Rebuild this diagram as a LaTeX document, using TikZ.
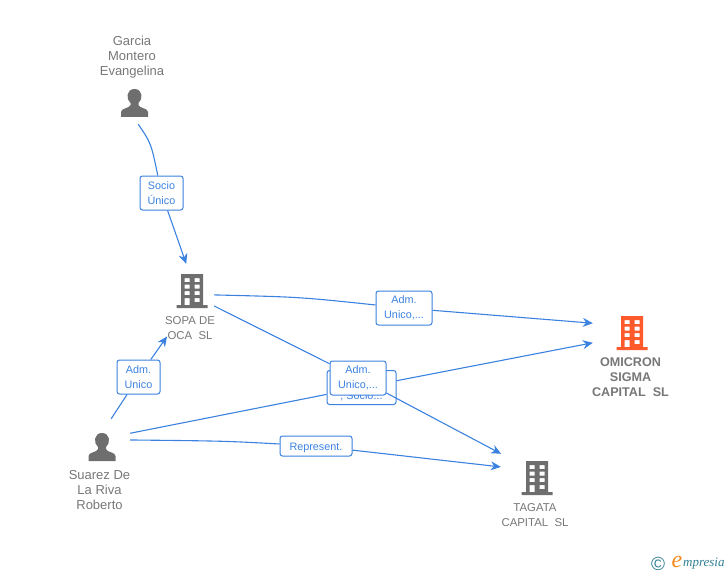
\documentclass[tikz,border=0pt]{standalone}
\usepackage{fontspec}
\setmainfont{Liberation Sans}
\newfontfamily\logofont{Liberation Serif}
\usetikzlibrary{arrows.meta}
\definecolor{linkblue}{HTML}{3B82E0}
\definecolor{icongray}{HTML}{6E6E6E}
\definecolor{namegray}{HTML}{777777}
\definecolor{mainorange}{HTML}{FF5A2C}
\definecolor{logoteal}{HTML}{2F7F93}
\definecolor{logoorange}{HTML}{F58A1F}
\tikzset{
  link/.style={linkblue,line width=1.1pt},
  arrowlink/.style={link,-{Stealth[length=10pt,width=9pt]}},
  linkbox/.style={draw=linkblue,fill=white,text=linkblue,rounded corners=2.5pt,line width=1pt,align=center,inner sep=0pt,font=\fontsize{10.8}{15}\selectfont,execute at begin node=\rule{0pt}{11pt}},
  admbox/.style={linkbox,minimum width=56pt,minimum height=34pt,execute at begin node=\rule{0pt}{14.5pt}},
  nametxt/.style={text=namegray,align=center,inner sep=0pt,font=\fontsize{13}{15}\selectfont},
  firmtxt/.style={text=namegray,align=center,inner sep=0pt,font=\fontsize{11.4}{15}\selectfont},
  person/.style={minimum width=56pt,minimum height=56pt,inner sep=0pt,path picture={
    \fill[icongray,shift={(path picture bounding box.center)}]
      (-13.5,14) -- (-13.5,9) .. controls (-13.5,5) and (-5,5.5) .. (-4,2) -- (-4,0)
      .. controls (-9,-4) and (-8,-14) .. (0,-14) .. controls (8,-14) and (9,-4) .. (4,0)
      -- (4,2) .. controls (5,5.5) and (13.5,5) .. (13.5,9) -- (13.5,14) -- cycle;}},
  building/.style={inner sep=0pt,path picture={
    \fill[#1,even odd rule,shift={(path picture bounding box.center)}]
      (-15.5,17) -- (-15.5,14) -- (-11,14) -- (-11,-17) -- (11,-17) -- (11,14) -- (15.5,14) -- (15.5,17) -- cycle
      (-7.5,-13) rectangle (-2.5,-9) (2.5,-13) rectangle (7.5,-9)
      (-7.5,-6.5) rectangle (-2.5,-2.5) (2.5,-6.5) rectangle (7.5,-2.5)
      (-7.5,0) rectangle (-2.5,4) (2.5,0) rectangle (7.5,4)
      (-7.5,7) rectangle (-2.5,14) (2.5,7) rectangle (7.5,11);}},
  building/.default=icongray
}
\begin{document}
\begin{tikzpicture}[x=1pt,y=-1pt]
\useasboundingbox (0,0) rectangle (728,575);
% people and firms
\node [person,minimum height=42pt] (garcia) at (134.5,103) {};
\node [person] (suarez) at (102,447) {};
\node [building,minimum width=44pt,minimum height=54pt] (sopa) at (192,291) {};
\node [building=mainorange,minimum width=78pt,minimum height=40pt] (omicron) at (632,333) {};
\node [building,minimum width=72pt,minimum height=48pt] (tagata) at (537,478) {};
\node [nametxt] (garciatxt) at (132,57) {Garcia\\Montero\\Evangelina};
\node [nametxt] (suareztxt) at (99.5,490) {Suarez De\\La Riva\\Roberto};
\node [firmtxt] (sopatxt) at (190,328.5) {SOPA DE\\OCA\ \ SL};
\node [firmtxt,font=\fontsize{12.6}{15}\selectfont\bfseries] (omicrontxt) at (630.5,377) {OMICRON\\SIGMA\\CAPITAL\ \ SL};
\node [firmtxt] (tagatatxt) at (535,515.5) {TAGATA\\CAPITAL\ \ SL};
% relation boxes
\node [linkbox,minimum width=43pt,minimum height=34pt] (socio) at (161.5,193) {Socio\\Único};
\node [admbox] (admtop) at (404,308) {Adm.\\Unico,...};
\node [linkbox,minimum width=43pt,minimum height=34pt] (admleft) at (138.5,377) {Adm.\\Unico};
\node [linkbox,minimum width=69pt,minimum height=34pt] (sociomid) at (361.5,387.5) {\smash{\raisebox{-6.5pt}{, Socio...}}};
\node [admbox] (admmid) at (358,378) {Adm.\\Unico,...};
\node [linkbox,minimum width=72pt,minimum height=20pt] (repres) at (316,446) {Represent.};
% connectors
\draw [link] (garcia.-80.5) .. controls (151,143) .. (socio);
\draw [arrowlink] (socio) -- (sopa.102.5);
\draw [link] (sopa.-10) .. controls (300,297) .. (admtop);
\draw [arrowlink] (admtop) -- (omicron.166);
\draw [link] (sopa.-34) -- (admmid);
\draw [arrowlink] (admmid) -- (tagata.146);
\draw [link] (suarez.72) -- (admleft);
\draw [arrowlink] (admleft) -- ([shift={(-23,8)}]sopatxt.center);
\draw [link] (suarez.26.6) -- (sociomid);
\draw [arrowlink] (sociomid) -- (omicron.194);
\draw [link] (suarez.14) .. controls (225,441) .. (repres);
\draw [arrowlink] (repres) -- (tagata.163);
% logo
\node [text=logoteal,inner sep=0pt,font=\fontsize{19}{19}\selectfont] (logoc) at (658,564) {©};
\node [text=logoorange,inner sep=0pt,font=\fontsize{24}{24}\logofont\itshape] (logoe) at (677,562) {e};
\node [text=logoteal,inner sep=0pt,anchor=west,font=\fontsize{13}{13}\logofont\itshape] (logotxt) at (683,564) {mpresia};
\end{tikzpicture}
\end{document}
